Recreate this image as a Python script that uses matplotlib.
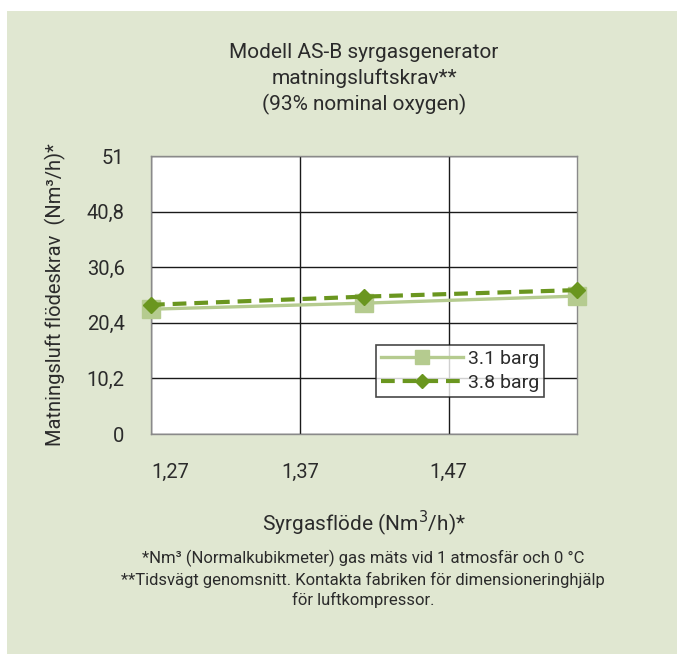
import matplotlib
matplotlib.use("Agg")
import matplotlib.pyplot as plt
from matplotlib.patches import Rectangle

# data
flow = [1.27, 1.413, 1.556]
air_31 = [22.9, 24.0, 25.3]
air_38 = [23.7, 25.2, 26.4]
series_names = ["3.1 barg", "3.8 barg"]
x_ticks = [1.27, 1.37, 1.47]
x_labels = ["1,27", "1,37", "1,47"]
y_ticks = [0, 10.2, 20.4, 30.6, 40.8, 51]
y_labels = ["0", "10,2", "20,4", "30,6", "40,8", "51"]

PANEL = "#e0e7d1"
LIGHT = "#b5cb8f"
DARK = "#6a961f"
TEXT = "#2b2b2b"

plt.rcParams["font.family"] = ["Roboto", "DejaVu Sans"]

W, H = 677, 654
fig = plt.figure(figsize=(W / 100, H / 100), dpi=100)
fig.patch.set_facecolor("white")
fig.patches.append(Rectangle((7 / W, 0), 1 - 7 / W, 1 - 11 / H,
                             transform=fig.transFigure, facecolor=PANEL,
                             edgecolor="none", zorder=-5))

ax_l, ax_r, ax_t, ax_b = 151, 576.7, 156, 434
ax = fig.add_axes([ax_l / W, 1 - ax_b / H, (ax_r - ax_l) / W, (ax_b - ax_t) / H])
ax.set_facecolor("white")

ax.plot(flow, air_31, color=LIGHT, lw=2.4, marker="s", ms=12.5,
        mfc=LIGHT, mec=LIGHT, label=series_names[0], clip_on=False, zorder=3)
ax.plot(flow, air_38, color=DARK, lw=3, dashes=(3.3, 1.9), marker="D", ms=8.5,
        mfc=DARK, mec=DARK, label=series_names[1], clip_on=False, zorder=4)

ax.set_xlim(flow[0], flow[-1])
ax.set_ylim(0, 51)
ax.set_yticks(y_ticks)
ax.set_yticklabels(y_labels)
ax.set_xticks(x_ticks)
ax.set_xticklabels(x_labels)
ax.xaxis.get_ticklabels()[0].set_horizontalalignment("left")
ax.tick_params(axis="both", length=0, labelsize=14.5, colors=TEXT)
ax.tick_params(axis="y", pad=19)
ax.tick_params(axis="x", pad=20.5)

ax.grid(True, color="#1a1a1a", lw=1)
for s in ax.spines.values():
    s.set_color("#8a8a8a")
    s.set_linewidth(1)

ax.set_ylabel("Matningsluft flödeskrav  (Nm³/h)*", fontsize=14.5, color=TEXT)
ax.yaxis.set_label_coords((66 - ax_l) / (ax_r - ax_l), 0.5)

leg = ax.legend(loc="upper left",
                bbox_to_anchor=((376 - ax_l) / (ax_r - ax_l),
                                (ax_b - 345) / (ax_b - ax_t)),
                frameon=True, fancybox=False, fontsize=14, handlelength=4.2,
                borderpad=0.25, labelspacing=0.3, handletextpad=0.3,
                borderaxespad=0, markerscale=0.85)
leg.get_frame().set_edgecolor("#1a1a1a")
leg.get_frame().set_linewidth(1.2)
for t in leg.get_texts():
    t.set_color(TEXT)

fig.text(364 / W, 1 - 79 / H,
         "Modell AS-B syrgasgenerator\nmatningsluftskrav**\n(93% nominal oxygen)",
         ha="center", va="center", fontsize=15, color=TEXT, linespacing=1.4)

fig.text(364 / W, 1 - 523 / H, "Syrgasflöde (Nm$^3$/h)*", ha="center",
         va="center", fontsize=15, color=TEXT)

fig.text(363 / W, 1 - 579 / H,
         "*Nm³ (Normalkubikmeter) gas mäts vid 1 atmosfär och 0 °C\n"
         "**Tidsvägt genomsnitt. Kontakta fabriken för dimensioneringhjälp\n"
         "för luftkompressor.",
         ha="center", va="center", fontsize=12, color=TEXT, linespacing=1.35)

fig.savefig("out.png", dpi=100)
